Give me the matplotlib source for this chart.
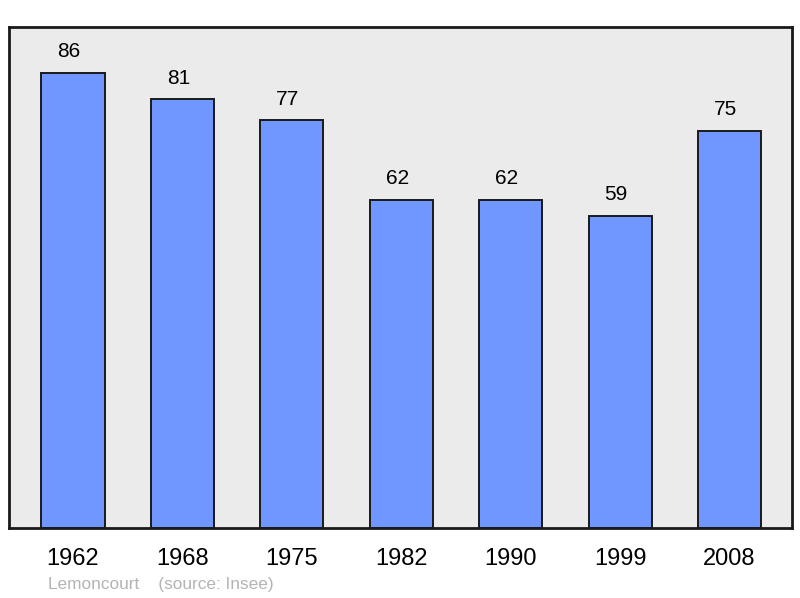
import matplotlib.pyplot as plt
import numpy as np

years = ['1962', '1968', '1975', '1982', '1990', '1999', '2008']
population = [86, 81, 77, 62, 62, 59, 75]

plt.rcParams['font.family'] = ['Liberation Sans', 'DejaVu Sans']

fig = plt.figure(figsize=(8, 5.98), dpi=100)
ax = fig.add_axes([9 / 800, 70 / 598, 783 / 800, 501 / 598])
ax.set_facecolor('#ebebeb')

x = np.arange(len(years))
ax.bar(x, population, width=0.576, color='#7096ff', edgecolor='#1a1a1a', linewidth=1.4, zorder=2)

# valeurs au-dessus des barres
for xi, v in zip(x, population):
    ax.annotate(str(v), (xi, v), xytext=(-3, 15), textcoords='offset points',
                ha='center', va='center', fontsize=15, color='black')

ax.set_xlim(-0.585, len(years) - 1 + 0.571)
ax.set_ylim(0, max(population) * 1.1)
ax.set_yticks([])
ax.set_xticks(x)
ax.set_xticklabels(years, fontsize=17)
ax.tick_params(axis='x', length=0, pad=14.5)
for s in ax.spines.values():
    s.set_linewidth(2)
    s.set_color('#1a1a1a')

fig.text(48 / 800, 1 - 584 / 598, 'Lemoncourt    (source: Insee)', fontsize=12.4,
         color='#b4b4b4', ha='left', va='center')

plt.savefig('out.png')
